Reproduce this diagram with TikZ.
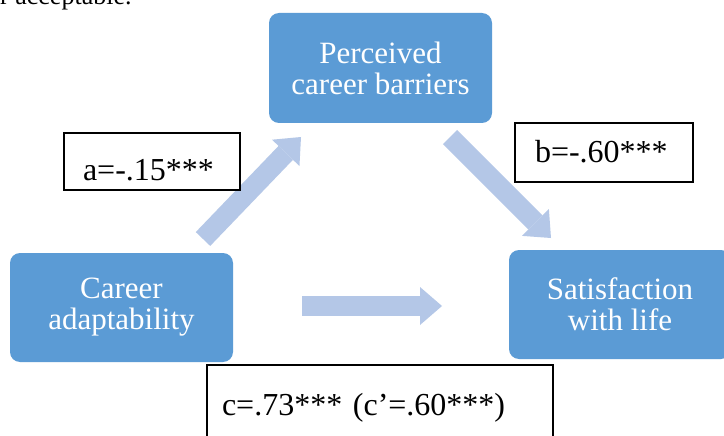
\documentclass[tikz,border=0pt]{standalone}
\usepackage{fontspec}
\setmainfont{Liberation Serif}
\usetikzlibrary{arrows.meta}
\definecolor{boxblue}{RGB}{91,155,213}
\definecolor{arrowblue}{RGB}{180,199,231}
\begin{document}
\begin{tikzpicture}[x=1pt,y=-1pt,
  mbox/.style={draw=none, fill=boxblue, rounded corners=10pt, text=white, align=center,
    font=\fontsize{31}{31}\selectfont, inner sep=0pt},
  lbox/.style={draw=black, line width=1.2pt, fill=white, align=left,
    font=\fontsize{32}{32}\selectfont, text depth=0pt},
  flow/.style={draw=arrowblue, line width=20pt,
    -{Triangle[width=38pt,length=22pt,line width=0pt]}}
]
\clip (0,0) rectangle (724,436);
\fill[white] (0,0) rectangle (724,436);

\node[font=\fontsize{26}{26}\selectfont, anchor=base west, inner sep=0pt] (frag) at (0,5) {r acceptable.};

% flow arrows
\coordinate (a1s) at (203,239); \coordinate (a1e) at (301,137);
\coordinate (a2s) at (450,137); \coordinate (a2e) at (551,238);
\coordinate (a3s) at (302,306); \coordinate (a3e) at (442,306);
\draw[flow] (a1s) -- (a1e);
\draw[flow] (a2s) -- (a2e);
\draw[flow] (a3s) -- (a3e);

% main boxes
\node[mbox, minimum width=223pt, minimum height=110pt] (pcb) at (380.5,68) {Perceived\\career barriers};
\node[mbox, minimum width=223pt, minimum height=109pt] (ca) at (121.5,307.5) {Career\\adaptability};
\node[mbox, minimum width=222pt, minimum height=109pt] (swl) at (620,304.5) {Satisfaction\\with life};

% coefficient boxes
\node[lbox, minimum width=176pt, minimum height=57pt, inner xsep=19pt, text width=138pt, text height=37pt] (la) at (152,161.5) {a=-.15***};
\node[lbox, minimum width=178pt, minimum height=59pt, inner xsep=20pt, text width=138pt, text height=21pt] (lb) at (604,152.5) {b=-.60***};
\node[lbox, minimum width=346pt, minimum height=81pt, inner xsep=15pt, text width=316pt, text height=19pt] (lc) at (380,405.5) {c=.73*** (c’=.60***)};
\end{tikzpicture}
\end{document}
